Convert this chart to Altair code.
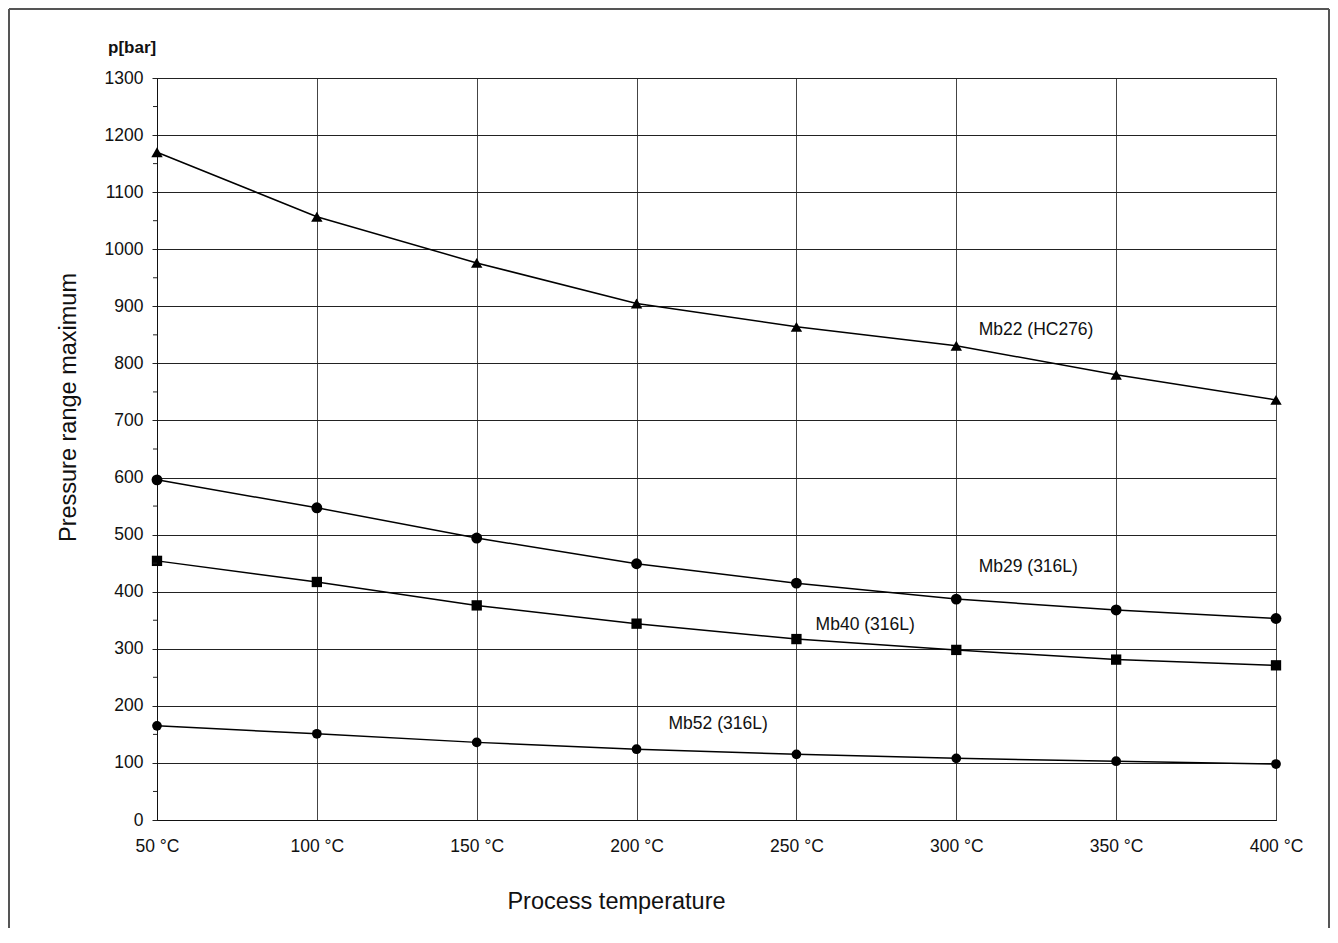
import altair as alt
import pandas as pd

# ---- data ----
temps = [50, 100, 150, 200, 250, 300, 350, 400]
mb22 = [1170, 1057, 976, 905, 864, 831, 780, 736]
mb29 = [596, 547, 494, 449, 415, 387, 368, 353]
mb40 = [454, 417, 376, 344, 317, 298, 281, 271]
mb52 = [165, 151, 136, 124, 115, 108, 103, 98]

series_names = ["Mb22 (HC276)", "Mb29 (316L)", "Mb40 (316L)", "Mb52 (316L)"]
series_shapes = ["triangle-up", "circle", "square", "circle"]
series_sizes = [130, 95, 95, 95]

label_x = [307, 307, 256, 210]
label_y = [858, 443, 342, 169]

y_ticks = list(range(0, 1301, 100))
y_minor = list(range(50, 1300, 100))
x_ticks = temps

# ---- tables ----
series_values = [mb22, mb29, mb40, mb52]
rows = []
for name, vals in zip(series_names, series_values):
    for t, v in zip(temps, vals):
        rows.append({"temp": t, "p": v, "series": name})
df = pd.DataFrame(rows)
labels_df = pd.DataFrame({"temp": label_x, "p": label_y, "text": series_names})
minor_df = pd.DataFrame({"p": y_minor})

FONT = "Liberation Sans"
W, H = 1119, 742

x_scale = alt.Scale(domain=[50, 400], nice=False, zero=False)
y_scale = alt.Scale(domain=[0, 1300], nice=False)

x_axis = alt.Axis(
    values=x_ticks,
    labelExpr="datum.value + ' °C'",
    labelFlush=False,
    grid=True, gridColor="#444", gridWidth=1,
    ticks=False, domain=True, domainColor="#111",
    labelFont=FONT, labelFontSize=17.5, labelColor="#111",
    labelPadding=17,
    title="Process temperature",
    titleFont=FONT, titleFontSize=23.5, titleFontWeight="normal", titleColor="#111",
    titleX=459, titleY=88, titleAlign="center", titleBaseline="alphabetic",
)
y_axis = alt.Axis(
    values=y_ticks,
    format="d",
    labelFlush=False,
    grid=True, gridColor="#222", gridWidth=1,
    ticks=True, tickSize=5, tickColor="#222",
    domain=True, domainColor="#111",
    labelFont=FONT, labelFontSize=17.5, labelColor="#111",
    labelPadding=9,
    title="Pressure range maximum",
    titleFont=FONT, titleFontSize=23.5, titleFontWeight="normal", titleColor="#111",
    titleAngle=270, titleX=-82, titleY=329, titleAlign="center", titleBaseline="alphabetic",
)

base = alt.Chart(df)

lines = base.mark_line(color="black", strokeWidth=1.5).encode(
    x=alt.X("temp:Q", scale=x_scale, axis=x_axis),
    y=alt.Y("p:Q", scale=y_scale, axis=y_axis),
    detail="series:N",
)

points = base.mark_point(filled=True, opacity=1, color="black").encode(
    x=alt.X("temp:Q", scale=x_scale),
    y=alt.Y("p:Q", scale=y_scale),
    shape=alt.Shape("series:N", scale=alt.Scale(domain=series_names, range=series_shapes), legend=None),
    size=alt.Size("series:N", scale=alt.Scale(domain=series_names, range=series_sizes), legend=None),
)

texts = alt.Chart(labels_df).mark_text(
    align="left", baseline="middle", font=FONT, fontSize=17.5, color="#111"
).encode(
    x=alt.X("temp:Q", scale=x_scale),
    y=alt.Y("p:Q", scale=y_scale),
    text="text:N",
)

minor_ticks = alt.Chart(minor_df).mark_rule(color="#222", strokeWidth=1).encode(
    y=alt.Y("p:Q", scale=y_scale),
    x=alt.value(-4),
    x2=alt.value(0),
)

one = alt.Data(values=[{"a": 1}])
unit_label = alt.Chart(one).mark_text(
    align="left", baseline="alphabetic", font=FONT, fontSize=17, fontWeight="bold", color="#111"
).encode(x=alt.value(-49), y=alt.value(-25), text=alt.value("p[bar]"))

frame_color = "#555"
frame_left = alt.Chart(one).mark_rule(color=frame_color, strokeWidth=2).encode(
    x=alt.value(-148), y=alt.value(-69), y2=alt.value(900))
frame_top = alt.Chart(one).mark_rule(color=frame_color, strokeWidth=2).encode(
    x=alt.value(-148), x2=alt.value(1172), y=alt.value(-69))
frame_right = alt.Chart(one).mark_rule(color=frame_color, strokeWidth=2).encode(
    x=alt.value(1172), y=alt.value(-69), y2=alt.value(900))

chart = alt.layer(
    lines, points, texts, minor_ticks, unit_label, frame_left, frame_top, frame_right
).properties(
    width=W, height=H,
    autosize=alt.AutoSizeParams(type="none"),
    padding={"left": 149, "top": 70, "right": 54, "bottom": 108},
    background="white",
).configure_view(stroke="#333", strokeWidth=1)

chart.save("out.html", embed_options={"renderer": "svg", "actions": False})
